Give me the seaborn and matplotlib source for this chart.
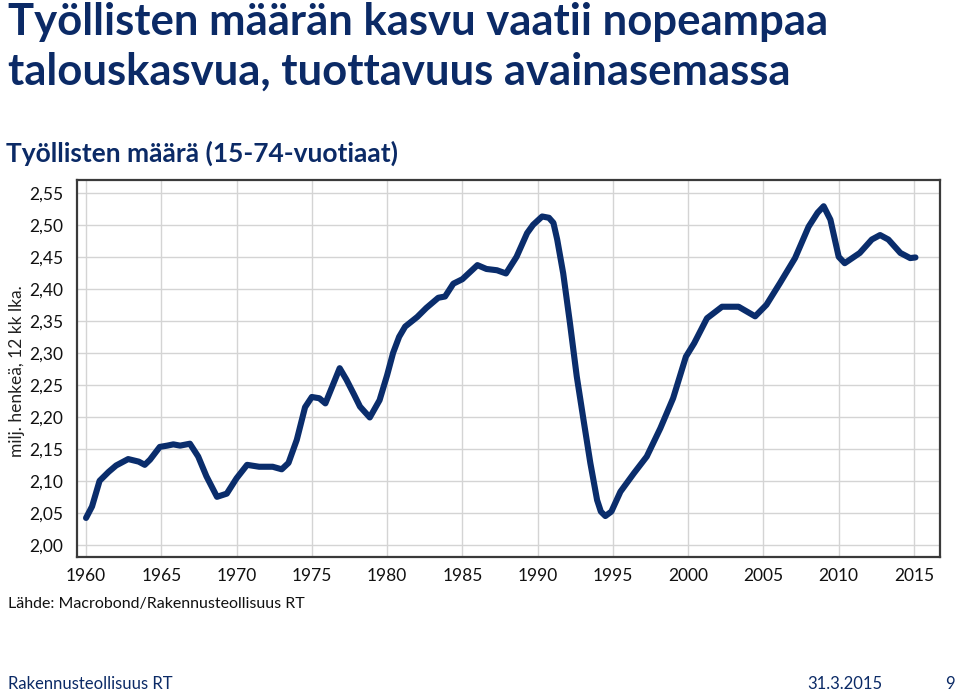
import matplotlib
matplotlib.use("Agg")
import matplotlib.pyplot as plt
import seaborn as sns
import pandas as pd

# ---- data ----
years = [1960.0, 1960.4, 1960.9, 1961.5, 1962.0, 1962.8, 1963.5, 1963.9, 1964.25, 1964.9,
         1965.4, 1965.8, 1966.25, 1966.9, 1967.45, 1968.0, 1968.7, 1969.35, 1970.0, 1970.7,
         1971.5, 1972.4, 1973.0, 1973.45, 1974.0, 1974.55, 1975.0, 1975.5, 1975.9, 1976.35,
         1976.85, 1977.3, 1977.8, 1978.2, 1978.85, 1979.5, 1980.0, 1980.4, 1980.8, 1981.2,
         1982.0, 1982.6, 1983.4, 1983.85, 1984.4, 1985.0, 1985.5, 1986.0, 1986.6, 1987.3,
         1987.9, 1988.6, 1989.3, 1989.7, 1990.3, 1990.75, 1991.05, 1991.3, 1991.7, 1992.15,
         1992.6, 1993.05, 1993.5, 1993.95, 1994.2, 1994.5, 1994.9, 1995.5, 1996.4, 1997.25,
         1998.15, 1999.0, 1999.85, 2000.4, 2001.25, 2002.25, 2003.35, 2004.45, 2005.2, 2006.1,
         2007.1, 2008.0, 2008.6, 2009.0, 2009.45, 2010.0, 2010.4, 2011.4, 2012.2, 2012.75,
         2013.3, 2014.1, 2014.75, 2015.1]
employed = [2.042, 2.060, 2.100, 2.114, 2.124, 2.134, 2.130, 2.125, 2.133, 2.153,
            2.155, 2.157, 2.155, 2.158, 2.138, 2.107, 2.075, 2.080, 2.104, 2.125,
            2.122, 2.122, 2.118, 2.128, 2.164, 2.215, 2.231, 2.229, 2.221, 2.247,
            2.276, 2.258, 2.235, 2.216, 2.199, 2.226, 2.265, 2.300, 2.325, 2.341,
            2.356, 2.370, 2.386, 2.388, 2.408, 2.415, 2.426, 2.437, 2.431, 2.429,
            2.424, 2.450, 2.487, 2.500, 2.513, 2.511, 2.503, 2.477, 2.424, 2.346,
            2.263, 2.195, 2.128, 2.070, 2.052, 2.045, 2.052, 2.083, 2.112, 2.138,
            2.182, 2.229, 2.294, 2.315, 2.354, 2.372, 2.372, 2.357, 2.375, 2.409,
            2.448, 2.497, 2.519, 2.529, 2.508, 2.450, 2.440, 2.456, 2.477, 2.484,
            2.477, 2.456, 2.448, 2.449]

x_ticks = [1960, 1965, 1970, 1975, 1980, 1985, 1990, 1995, 2000, 2005, 2010, 2015]
x_tick_labels = ["1960", "1965", "1970", "1975", "1980", "1985", "1990", "1995",
                 "2000", "2005", "2010", "2015"]
y_ticks = [2.00, 2.05, 2.10, 2.15, 2.20, 2.25, 2.30, 2.35, 2.40, 2.45, 2.50, 2.55]
y_tick_labels = ["2,00", "2,05", "2,10", "2,15", "2,20", "2,25", "2,30", "2,35",
                 "2,40", "2,45", "2,50", "2,55"]

title_lines = ["Työllisten määrän kasvu vaatii nopeampaa", "talouskasvua, tuottavuus avainasemassa"]
subtitle = "Työllisten määrä (15-74-vuotiaat)"
y_label = "milj. henkeä, 12 kk lka."
source = "Lähde: Macrobond/Rakennusteollisuus RT"
footer_left = "Rakennusteollisuus RT"
footer_date = "31.3.2015"
footer_page = "9"

df = pd.DataFrame({"year": years, "value": employed})

# ---- style ----
sns.set_style("white")
plt.rcParams["font.family"] = ["Lato", "DejaVu Sans"]

NAVY = "#0b2a66"

fig = plt.figure(figsize=(9.6, 6.91), dpi=100)
ax = fig.add_axes([77 / 960, 1 - 557 / 691, (940 - 77) / 960, (557 - 180) / 691])

sns.lineplot(data=df, x="year", y="value", ax=ax, color="#0a2d6c", linewidth=4.4,
             solid_joinstyle="round", solid_capstyle="round")

ax.set_xlim(1959.4, 2016.73)
ax.set_ylim(1.981, 2.570)
ax.set_xticks(x_ticks)
ax.set_xticklabels(x_tick_labels)
ax.set_yticks(y_ticks)
ax.set_yticklabels(y_tick_labels)
ax.set_xlabel("")
ax.set_ylabel("")

ax.grid(True, color="#d4d4d4", linewidth=1.0)
ax.set_axisbelow(True)
for sp in ax.spines.values():
    sp.set_visible(True)
    sp.set_color("#3a3a3a")
    sp.set_linewidth(1.6)

ax.tick_params(axis="y", direction="out", length=5, width=1, color="#3a3a3a",
               labelsize=12.5, pad=5, labelcolor="#111111")
ax.tick_params(axis="x", direction="in", length=7, width=1, color="#3a3a3a",
               labelsize=12.5, pad=8, labelcolor="#111111")

# ---- texts ----
fig.text(8 / 960, 1 - 22 / 691, title_lines[0], fontsize=31.4, fontweight="bold",
         color=NAVY, ha="left", va="center")
fig.text(8 / 960, 1 - 72 / 691, title_lines[1], fontsize=31.4, fontweight="bold",
         color=NAVY, ha="left", va="center")
fig.text(6 / 960, 1 - 153 / 691, subtitle, fontsize=19, fontweight="bold",
         color=NAVY, ha="left", va="center")
fig.text(17 / 960, 1 - 371 / 691, y_label, fontsize=12.5, rotation=90,
         color="#222222", ha="center", va="center")
fig.text(8 / 960, 1 - 604 / 691, source, fontsize=11.5, color="#111111",
         ha="left", va="center")
fig.text(8 / 960, 1 - 684 / 691, footer_left, fontsize=12, color=NAVY,
         ha="left", va="center")
fig.text(845 / 960, 1 - 684 / 691, footer_date, fontsize=12, color=NAVY,
         ha="center", va="center")
fig.text(950 / 960, 1 - 684 / 691, footer_page, fontsize=12, color=NAVY,
         ha="center", va="center")

fig.savefig("out.png", dpi=100)
